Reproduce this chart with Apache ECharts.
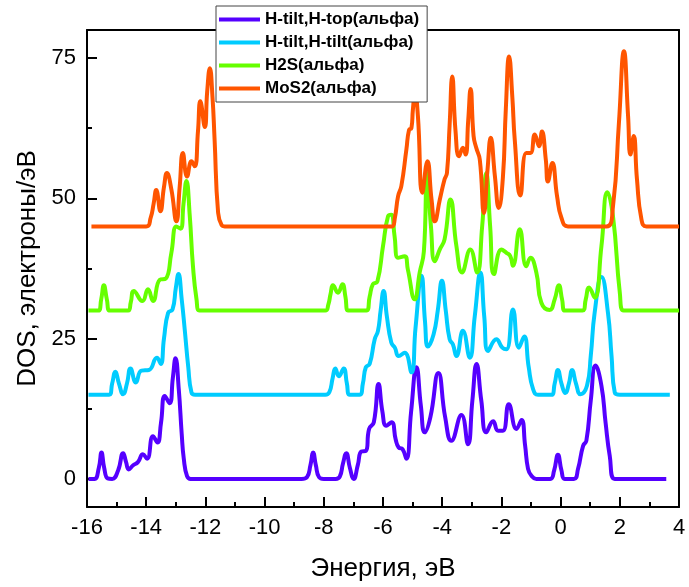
<!DOCTYPE html>
<html>
<head>
<meta charset="utf-8">
<script src="https://cdn.jsdelivr.net/npm/echarts@6.0.0/dist/echarts.min.js"></script>
<style>html,body{margin:0;padding:0;background:#fff;}#c{width:689px;height:587px;}</style>
</head>
<body>
<div id="c"></div>
<script>
var seriesNames = ['H-tilt,H-top(альфа)', 'H-tilt,H-tilt(альфа)', 'H2S(альфа)', 'MoS2(альфа)'];
var seriesColors = ['#5500ff', '#00ccff', '#66ff00', '#ff5500'];
var yTickValues = [0, 25, 50, 75];
var yMinorValues = [12.5, 37.5, 62.5];

var hTop = [[-15.95,0],[-15.75,0],[-15.6,2],[-15.51,4.7],[-15.42,2],[-15.3,0.1],[-15.15,0],[-14.95,1.5],[-14.78,4.6],[-14.68,3],[-14.59,1.7],[-14.45,2.4],[-14.28,3.0],[-14.11,4.4],[-13.97,3.6],[-13.77,7.6],[-13.62,6.5],[-13.5,10],[-13.37,14.8],[-13.21,13.5],[-13.1,18],[-13.01,21.5],[-12.9,16],[-12.8,8],[-12.73,3.6],[-12.62,0.5],[-12.5,0],
[-8.75,0],[-8.57,0.3],[-8.45,2.5],[-8.36,4.7],[-8.27,2.5],[-8.16,0.3],[-8.0,0],[-7.6,0],[-7.46,0.4],[-7.35,2.8],[-7.24,4.6],[-7.12,2],[-6.99,0],[-6.85,2.5],[-6.73,4.9],[-6.58,5.0],[-6.47,8.9],[-6.31,10.1],[-6.15,16.9],[-6.02,12],[-5.89,9.5],[-5.71,10.1],[-5.57,7],[-5.47,5.6],[-5.34,5.3],[-5.21,3.6],[-5.05,12],[-4.87,19.9],[-4.72,13],[-4.59,8.3],[-4.4,11],[-4.13,18.9],[-3.9,11],[-3.69,6.8],[-3.35,11.4],[-3.13,6.2],[-2.98,14],[-2.84,20.5],[-2.68,14],[-2.51,8.3],[-2.28,10.3],[-2.11,8.6],[-1.95,8.6],[-1.75,13.3],[-1.49,8.9],[-1.32,10.5],[-1.2,6],[-1.1,1.8],[-0.99,0.6],[-0.82,0],[-0.35,0],[-0.22,1.5],[-0.09,4.3],[0.03,1.5],[0.14,0],[0.45,0],[0.59,1.8],[0.76,5.9],[0.87,6.8],[1.02,14],[1.18,20.2],[1.38,16.6],[1.52,10],[1.66,4.1],[1.83,0],[3.57,0]];

var hTilt = [[-15.95,15],[-15.25,15],[-15.15,17],[-15.04,19.1],[-14.92,17],[-14.78,15.1],[-14.65,17],[-14.53,19.7],[-14.35,17.2],[-14.16,19.3],[-13.91,19.4],[-13.64,21.6],[-13.51,20.5],[-13.4,25],[-13.26,29.6],[-13.11,30.2],[-13.0,34],[-12.91,36.5],[-12.8,32],[-12.7,26.7],[-12.58,20],[-12.47,15.4],[-12.35,15],
[-7.95,15],[-7.81,15.5],[-7.7,18],[-7.61,19.7],[-7.49,18.3],[-7.33,19.7],[-7.22,17],[-7.13,15],[-6.79,15],[-6.68,17],[-6.58,19.9],[-6.45,20.5],[-6.28,24.9],[-6.17,26.4],[-6.08,30],[-5.98,33.5],[-5.87,29],[-5.72,24.3],[-5.6,23.4],[-5.47,21.9],[-5.27,22.5],[-5.04,19.0],[-4.9,27],[-4.7,36.2],[-4.58,28],[-4.48,23.6],[-4.29,25.8],[-4.15,30],[-4.01,35.3],[-3.88,30],[-3.75,24.9],[-3.64,24.0],[-3.52,21.9],[-3.30,26.4],[-3.07,21.6],[-2.9,29],[-2.71,36.8],[-2.58,29],[-2.45,22.8],[-2.17,24.9],[-1.97,23.4],[-1.83,23.1],[-1.61,30.2],[-1.41,23.4],[-1.23,25.4],[-1.08,20],[-0.93,16.0],[-0.76,15],[-0.31,15],[-0.2,17],[-0.09,19.4],[0.03,17],[0.16,15.3],[0.28,17],[0.39,19.4],[0.52,17],[0.67,15.1],[0.89,16.6],[1.02,22],[1.15,29.6],[1.38,36.0],[1.60,29.6],[1.72,22],[1.83,15.4],[2.0,15],[3.69,15]];

var h2s = [[-15.95,30],[-15.62,30],[-15.52,32],[-15.43,34.5],[-15.33,32],[-15.23,30],[-14.61,30],[-14.52,31.5],[-14.42,33.5],[-14.13,31.7],[-13.94,33.8],[-13.77,31.7],[-13.54,35.5],[-13.34,35.7],[-13.15,40.3],[-12.98,45.0],[-12.84,44.6],[-12.74,49],[-12.64,53.1],[-12.53,47],[-12.42,37.9],[-12.3,32],[-12.2,30],
[-7.95,30],[-7.85,31],[-7.77,33],[-7.69,34.5],[-7.52,33.2],[-7.37,34.7],[-7.27,32.5],[-7.18,30],[-6.56,30],[-6.45,32.5],[-6.34,34.7],[-6.19,35.2],[-6.0,41.5],[-5.83,46.8],[-5.72,47.1],[-5.61,43.3],[-5.49,39.4],[-5.27,39.7],[-5.16,37.3],[-4.93,32.0],[-4.76,36.8],[-4.62,40.5],[-4.51,54.5],[-4.38,45],[-4.25,38.8],[-4.08,40.9],[-3.92,42.7],[-3.72,49.8],[-3.52,41.5],[-3.33,36.8],[-3.05,40.9],[-2.82,36.8],[-2.65,45],[-2.51,54.5],[-2.38,45],[-2.25,36.5],[-2.0,40.9],[-1.83,40.3],[-1.70,39.7],[-1.61,38],[-1.38,44.5],[-1.16,37.9],[-1.02,39.4],[-0.82,36.8],[-0.65,31.4],[-0.37,30.1],[-0.2,32],[-0.06,34.5],[0.05,32],[0.14,30],[0.74,30],[0.85,32],[0.96,34.1],[1.15,32.3],[1.38,41.5],[1.58,51.1],[1.77,46.8],[2.0,33.2],[2.13,30],[4.0,30]];

var mos2 = [[-15.85,45],[-14.0,45],[-13.85,46.5],[-13.75,49],[-13.66,51.5],[-13.52,47.7],[-13.40,52],[-13.30,54.5],[-13.15,51.6],[-12.98,45.9],[-12.87,52],[-12.76,58.1],[-12.62,53.9],[-12.47,56.6],[-12.36,55.7],[-12.25,62],[-12.17,67.3],[-12.02,62.7],[-11.94,69],[-11.85,73.2],[-11.76,68],[-11.69,60.5],[-11.57,47.4],[-11.45,45.2],[-11.35,45],
[-5.7,45],[-5.6,46.5],[-5.49,50.4],[-5.38,52.2],[-5.21,58.7],[-5.12,62.2],[-5.04,62.5],[-4.99,65.8],[-4.92,69],[-4.82,64.6],[-4.67,51.0],[-4.5,56.6],[-4.36,49.8],[-4.25,45.9],[-4.08,49.8],[-3.92,53.4],[-3.84,54.5],[-3.75,63],[-3.66,71.7],[-3.55,62],[-3.43,57.5],[-3.30,59.0],[-3.21,57.8],[-3.12,64],[-3.04,69.5],[-2.94,61.1],[-2.85,59.0],[-2.73,56.9],[-2.59,47.4],[-2.47,55],[-2.36,60.8],[-2.22,54],[-2.09,48.3],[-1.95,53.7],[-1.85,66],[-1.74,75.3],[-1.63,68],[-1.55,60.5],[-1.36,50.5],[-1.16,58.1],[-1.02,58.1],[-0.87,61.4],[-0.73,59.3],[-0.63,61.9],[-0.50,56.9],[-0.43,53.0],[-0.28,56.3],[-0.12,50.4],[0.03,46.5],[0.25,45],[1.55,45],[1.77,48.6],[1.97,63.4],[2.14,76.2],[2.28,64.6],[2.36,57.8],[2.47,61.1],[2.58,53.4],[2.73,46.3],[2.9,45],[4.0,45]];

var allData = [hTop, hTilt, h2s, mos2];
var FONT = "'Liberation Sans', Arial, sans-serif";

var chart = echarts.init(document.getElementById('c'), null, {renderer: 'canvas'});
var axisLineStyle = {color: '#000', width: 2};
chart.setOption({
  animation: false,
  backgroundColor: '#fff',
  grid: {left: 87, right: 10, top: 30, bottom: 79, containLabel: false},
  legend: {
    orient: 'vertical', left: 216, top: 6,
    backgroundColor: '#fff', borderColor: '#444', borderWidth: 1,
    padding: [5, 8, 5, 3], itemGap: 6, itemWidth: 41, itemHeight: 4,
    icon: 'rect',
    textStyle: {fontFamily: FONT, fontSize: 17, fontWeight: 'bold', color: '#000', lineHeight: 17},
    data: seriesNames
  },
  xAxis: [{
    type: 'value', min: -16, max: 4, interval: 2,
    axisLine: {onZero: false, lineStyle: axisLineStyle},
    axisTick: {inside: true, length: 10, lineStyle: {color: '#000', width: 2}},
    minorTick: {show: true, splitNumber: 2, length: 5, lineStyle: {color: '#000', width: 2}},
    splitLine: {show: false}, minorSplitLine: {show: false},
    axisLabel: {fontFamily: FONT, fontSize: 22, color: '#000', margin: 10},
    name: 'Энергия, эВ', nameLocation: 'middle', nameGap: 49,
    nameTextStyle: {fontFamily: FONT, fontSize: 26, color: '#000'}
  }, {
    type: 'value', position: 'top', min: -16, max: 4,
    axisLine: {show: true, onZero: false, lineStyle: axisLineStyle},
    axisTick: {show: false}, axisLabel: {show: false}, splitLine: {show: false}
  }],
  yAxis: [{
    type: 'value', min: -5, max: 80,
    axisLine: {show: true, onZero: false, lineStyle: axisLineStyle},
    axisTick: {show: true, inside: true, length: 10, customValues: yTickValues, lineStyle: {color: '#000', width: 2}},
    axisLabel: {fontFamily: FONT, fontSize: 22, color: '#000', margin: 11, customValues: yTickValues},
    splitLine: {show: false},
    name: 'DOS, электроны/эВ', nameLocation: 'middle', nameGap: 45,
    nameTextStyle: {fontFamily: FONT, fontSize: 26, color: '#000'}
  }, {
    type: 'value', min: -5, max: 80, position: 'left',
    axisLine: {show: false, onZero: false},
    axisTick: {show: true, inside: true, length: 5, customValues: yMinorValues, lineStyle: {color: '#000', width: 2}},
    axisLabel: {show: false}, splitLine: {show: false}
  }, {
    type: 'value', min: -5, max: 80, position: 'right',
    axisLine: {show: true, onZero: false, lineStyle: axisLineStyle},
    axisTick: {show: false}, axisLabel: {show: false}, splitLine: {show: false}
  }],
  series: allData.map(function (d, i) {
    return {
      name: seriesNames[i], type: 'line', data: d, xAxisIndex: 0, yAxisIndex: 0,
      showSymbol: false, smooth: 0.5, clip: true,
      lineStyle: {color: seriesColors[i], width: 4},
      itemStyle: {color: seriesColors[i]}
    };
  })
});
</script>
</body>
</html>
